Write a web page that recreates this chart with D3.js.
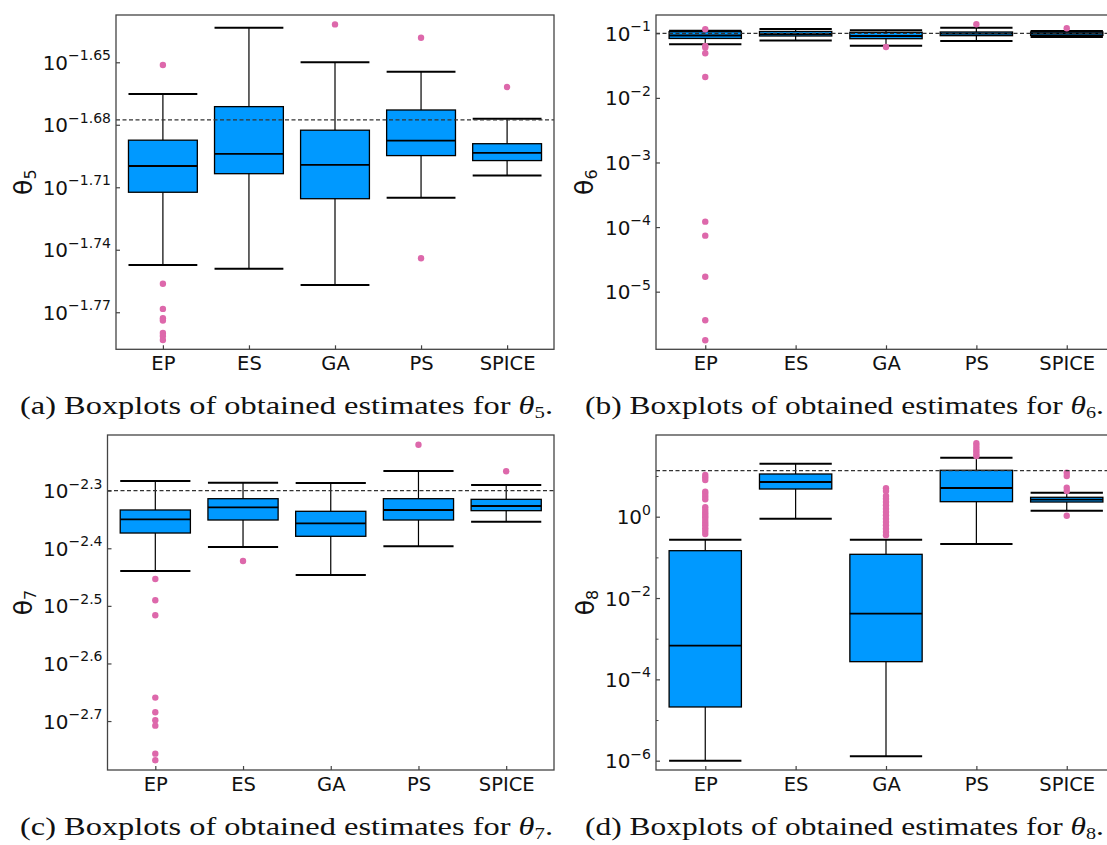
<!DOCTYPE html>
<html>
<head>
<meta charset="utf-8">
<script src="https://cdn.jsdelivr.net/npm/d3@7/dist/d3.min.js"></script>
<style>
  html, body { margin: 0; padding: 0; background: #fff; }
  svg { display: block; }
</style>
</head>
<body>
<svg id="chart" width="1107" height="845"></svg>
<script>
// ---------------- DATA ----------------
const categories = ["EP", "ES", "GA", "PS", "SPICE"];

// theta5
const theta5Low    = [0.017894, 0.017820, 0.017503, 0.019275, 0.019752];
const theta5Q1     = [0.019391, 0.019793, 0.019253, 0.020193, 0.020082];
const theta5Median = [0.019962, 0.020230, 0.019989, 0.020531, 0.020254];
const theta5Q3     = [0.020540, 0.021316, 0.020768, 0.021237, 0.020460];
const theta5High   = [0.021617, 0.023260, 0.022387, 0.022156, 0.021033];
const theta5Outliers = [
  [0.022320, 0.017527, 0.017045, 0.016869, 0.016827, 0.016596, 0.016543, 0.016470],
  [],
  [0.023345],
  [0.023004, 0.018026],
  [0.021782]
];
const theta5True = 0.021004;
const theta5TickValues = [0.022387, 0.020893, 0.019498, 0.018197, 0.016982];
const theta5TickExponents = ["\u22121.65", "\u22121.68", "\u22121.71", "\u22121.74", "\u22121.77"];

// theta6
const theta6Low    = [0.067608, 0.077446, 0.064269, 0.076033, 0.087700];
const theta6Q1     = [0.083176, 0.090782, 0.082414, 0.091833, 0.092470];
const theta6Median = [0.092470, 0.097499, 0.090782, 0.098628, 0.099312];
const theta6Q3     = [0.10593, 0.10666, 0.10351, 0.10471, 0.10471];
const theta6High   = [0.10965, 0.11668, 0.11117, 0.12218, 0.10864];
const theta6Outliers = [
  [0.11535, 0.063533, 0.060256, 0.048978, 0.021086, 1.2134e-4, 7.362e-5, 1.706e-5, 3.606e-6, 1.770e-6],
  [],
  [0.061376],
  [0.13772],
  [0.11940]
];
const theta6True = 0.1;
const theta6TickValues = [0.1, 0.01, 0.001, 1e-4, 1e-5];
const theta6TickExponents = ["\u22121", "\u22122", "\u22123", "\u22124", "\u22125"];

// theta7
const theta7Low    = [0.0036358, 0.0040022, 0.0035785, 0.0040124, 0.0044279];
const theta7Q1     = [0.0042316, 0.0044576, 0.0041764, 0.0044576, 0.0046270];
const theta7Median = [0.0044699, 0.0046892, 0.0043995, 0.0046398, 0.0047141];
const theta7Q3     = [0.0046398, 0.0048540, 0.0046153, 0.0048540, 0.0048417];
const theta7High   = [0.0052096, 0.0051749, 0.0051689, 0.0054225, 0.0051274];
const theta7Outliers = [
  [0.0035213, 0.0032337, 0.0030451, 0.0021913, 0.0020668, 0.0020012, 0.0019588, 0.0017515, 0.0017061],
  [0.0037844],
  [],
  [0.0060228],
  [0.0054163]
];
const theta7True = 0.0050119;
const theta7TickValues = [0.0050119, 0.0039811, 0.0031623, 0.0025119, 0.0019953];
const theta7TickExponents = ["\u22122.3", "\u22122.4", "\u22122.5", "\u22122.6", "\u22122.7"];

// theta8
const theta8Low    = [1e-6, 0.89331, 1.2823e-6, 0.21330, 1.4060];
const theta8Q1     = [2.0941e-5, 4.7973, 2.7227e-4, 2.3388, 2.2961];
const theta8Median = [6.7298e-4, 7.1285, 4.1210e-3, 5.0816, 2.6182];
const theta8Q3     = [0.14588, 11.220, 0.11885, 13.836, 2.9992];
const theta8High   = [0.27164, 20.091, 0.27164, 28.249, 3.8905];
const theta8Outliers = [
  [10.593, 9.2897, 7.9799, 4.1210, 3.6141, 3.1046, 2.6730, 1.7022, 1.4622, 1.2531, 1.1015,
   0.96605, 0.82794, 0.71121, 0.61518, 0.51880, 0.44463, 0.37584],
  [],
  [4.9888, 4.2855, 3.2285, 2.7733, 2.2961, 1.9055, 1.5740, 1.3062, 1.0814, 0.89331,
   0.74131, 0.61518, 0.50699, 0.42073, 0.34914],
  [63.826, 54.702, 46.989, 40.544, 34.834, 31.046],
  [12.078, 10.023, 5.1642, 4.2855, 1.0593]
];
const theta8True = 13.521;
const theta8TickValues = [1, 0.01, 1e-4, 1e-6];
const theta8TickExponents = ["0", "\u22122", "\u22124", "\u22126"];
const theta8MinorTicks = [10, 0.1, 1e-3, 1e-5];

const yLabels = ["5", "6", "7", "8"];
const captionLetters = ["a", "b", "c", "d"];

// ---------------- LAYOUT ----------------
const BOX_FILL = "#0099ff";
const DOT_FILL = "#dd68ab";
const SPINE = "#444";

const panels = [
  { left: 116, top: 15, width: 438, height: 334.3, domain: [0.0163005, 0.0235885],
    low: theta5Low, q1: theta5Q1, med: theta5Median, q3: theta5Q3, high: theta5High,
    out: theta5Outliers, truth: theta5True, ticks: theta5TickValues, exps: theta5TickExponents,
    minor: [], ylabelX: 32, sub: yLabels[0],
    cap: { x: 20, y: 414, len: 533, letter: captionLetters[0] } },
  { left: 656, top: 15, width: 460, height: 334.3, domain: [1.2823e-6, 0.191867],
    low: theta6Low, q1: theta6Q1, med: theta6Median, q3: theta6Q3, high: theta6High,
    out: theta6Outliers, truth: theta6True, ticks: theta6TickValues, exps: theta6TickExponents,
    minor: [], ylabelX: 593, sub: yLabels[1],
    cap: { x: 585, y: 414, len: 519, letter: captionLetters[1] } },
  { left: 107.5, top: 435, width: 446.5, height: 335, domain: [0.0016406, 0.0062618],
    low: theta7Low, q1: theta7Q1, med: theta7Median, q3: theta7Q3, high: theta7High,
    out: theta7Outliers, truth: theta7True, ticks: theta7TickValues, exps: theta7TickExponents,
    minor: [], ylabelX: 31.5, sub: yLabels[2],
    cap: { x: 20, y: 835, len: 533, letter: captionLetters[2] } },
  { left: 656, top: 435, width: 460, height: 335, domain: [5.902e-7, 102.09],
    low: theta8Low, q1: theta8Q1, med: theta8Median, q3: theta8Q3, high: theta8High,
    out: theta8Outliers, truth: theta8True, ticks: theta8TickValues, exps: theta8TickExponents,
    minor: theta8MinorTicks, ylabelX: 594, sub: yLabels[3],
    cap: { x: 585, y: 835, len: 519, letter: captionLetters[3] } }
];

const svg = d3.select("#chart");
svg.append("rect").attr("width", 1107).attr("height", 845).attr("fill", "#fff");

panels.forEach(p => {
  const bottom = p.top + p.height, right = p.left + p.width;
  const x = d3.scalePoint().domain(categories).range([p.left, right]).padding(0.545);
  const y = d3.scaleLog().domain(p.domain).range([bottom, p.top]);
  const bw = x.step() * 0.8;
  const g = svg.append("g");

  const clipId = "clip" + p.sub;
  svg.append("clipPath").attr("id", clipId).append("rect")
    .attr("x", p.left).attr("y", p.top).attr("width", p.width).attr("height", p.height);
  const plot = g.append("g").attr("clip-path", `url(#${clipId})`);

  const rows = categories.map((c, i) => ({
    c, low: p.low[i], q1: p.q1[i], med: p.med[i], q3: p.q3[i], high: p.high[i], out: p.out[i]
  }));

  const box = plot.selectAll("g.box").data(rows).join("g").attr("class", "box");
  box.append("line")
    .attr("x1", d => x(d.c)).attr("x2", d => x(d.c))
    .attr("y1", d => y(d.q3)).attr("y2", d => y(d.high))
    .attr("stroke", "#000").attr("stroke-width", 1.2);
  box.append("line")
    .attr("x1", d => x(d.c)).attr("x2", d => x(d.c))
    .attr("y1", d => y(d.q1)).attr("y2", d => y(d.low))
    .attr("stroke", "#000").attr("stroke-width", 1.2);
  box.append("line")
    .attr("x1", d => x(d.c) - bw / 2).attr("x2", d => x(d.c) + bw / 2)
    .attr("y1", d => y(d.high)).attr("y2", d => y(d.high))
    .attr("stroke", "#000").attr("stroke-width", 2);
  box.append("line")
    .attr("x1", d => x(d.c) - bw / 2).attr("x2", d => x(d.c) + bw / 2)
    .attr("y1", d => y(d.low)).attr("y2", d => y(d.low))
    .attr("stroke", "#000").attr("stroke-width", 2);
  box.append("rect")
    .attr("x", d => x(d.c) - bw / 2).attr("width", bw)
    .attr("y", d => y(d.q3)).attr("height", d => y(d.q1) - y(d.q3))
    .attr("fill", BOX_FILL).attr("stroke", "#000").attr("stroke-width", 1.3);
  box.append("line")
    .attr("x1", d => x(d.c) - bw / 2).attr("x2", d => x(d.c) + bw / 2)
    .attr("y1", d => y(d.med)).attr("y2", d => y(d.med))
    .attr("stroke", "#000").attr("stroke-width", 1.8);

  plot.append("line")
    .attr("x1", p.left).attr("x2", right)
    .attr("y1", y(p.truth)).attr("y2", y(p.truth))
    .attr("stroke", "#333").attr("stroke-width", 1.3).attr("stroke-dasharray", "4,2.5");

  box.selectAll("circle").data(d => d.out.map(v => ({ c: d.c, v }))).join("circle")
    .attr("cx", d => x(d.c)).attr("cy", d => y(d.v)).attr("r", 3.2)
    .attr("fill", DOT_FILL);

  g.append("rect")
    .attr("x", p.left).attr("y", p.top).attr("width", p.width).attr("height", p.height)
    .attr("fill", "none").attr("stroke", SPINE).attr("stroke-width", 1.3);

  const yAxis = g.append("g").attr("transform", `translate(${p.left},0)`)
    .call(d3.axisLeft(y).tickValues(p.ticks).tickSize(-4).tickFormat(""));
  yAxis.select(".domain").remove();
  yAxis.selectAll(".tick line").attr("stroke", SPINE).attr("stroke-width", 1.2);
  if (p.minor.length) {
    const yMinor = g.append("g").attr("transform", `translate(${p.left},0)`)
      .call(d3.axisLeft(y).tickValues(p.minor).tickSize(-2.5).tickFormat(""));
    yMinor.select(".domain").remove();
    yMinor.selectAll(".tick line").attr("stroke", SPINE).attr("stroke-width", 1);
  }
  const lab = g.append("g").selectAll("text").data(p.ticks).join("text")
    .attr("x", p.left - 5).attr("y", d => y(d) + 7.5)
    .attr("text-anchor", "end")
    .attr("font-family", "DejaVu Sans").attr("font-size", 20).attr("fill", "#111");
  lab.append("tspan").text("10");
  lab.append("tspan").attr("dy", -9.5).attr("font-size", 14).text((d, i) => p.exps[i]);

  const xAxis = g.append("g").attr("transform", `translate(0,${bottom})`)
    .call(d3.axisBottom(x).tickSize(-4).tickPadding(8));
  xAxis.select(".domain").remove();
  xAxis.selectAll(".tick line").attr("stroke", SPINE).attr("stroke-width", 1.2);
  xAxis.selectAll(".tick text")
    .attr("font-family", "DejaVu Sans").attr("font-size", 19.5).attr("fill", "#111")
    .attr("dy", null).attr("y", 21);

  const yl = g.append("text")
    .attr("transform", `translate(${p.ylabelX},${p.top + p.height / 2}) rotate(-90)`)
    .attr("text-anchor", "middle")
    .attr("font-family", "DejaVu Sans").attr("font-size", 25).attr("fill", "#111");
  yl.append("tspan").text("\u03b8");
  yl.append("tspan").attr("dy", 4).attr("font-size", 16).text(p.sub);

  const cap = svg.append("text")
    .attr("x", p.cap.x).attr("y", p.cap.y)
    .attr("font-family", "Liberation Serif").attr("font-size", 25).attr("fill", "#111")
    .attr("textLength", p.cap.len).attr("lengthAdjust", "spacingAndGlyphs");
  cap.append("tspan").text(`(${p.cap.letter}) Boxplots of obtained estimates for `);
  cap.append("tspan").attr("font-style", "italic").text("\u03b8");
  cap.append("tspan").attr("dy", 4).attr("font-size", 16).text(p.sub);
  cap.append("tspan").attr("dy", -4).text(".");
});
</script>
</body>
</html>
